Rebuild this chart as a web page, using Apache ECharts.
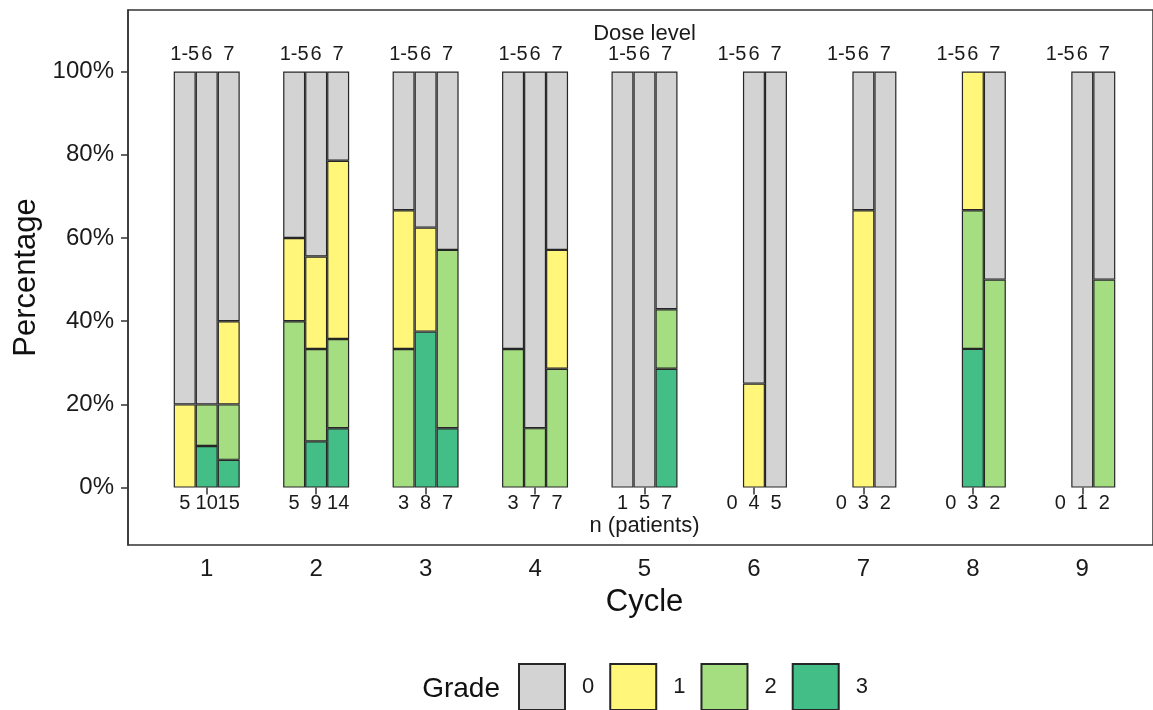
<!DOCTYPE html>
<html>
<head>
<meta charset="utf-8">
<script src="https://cdn.jsdelivr.net/npm/echarts@6/dist/echarts.min.js"></script>
<style>
html,body{margin:0;padding:0;background:#fff;}
#chart{width:1153px;height:710px;}
</style>
</head>
<body>
<div id="chart"></div>
<script>
// ---- data ----
const cycles = ['1', '2', '3', '4', '5', '6', '7', '8', '9'];
const doseLevels = ['1-5', '6', '7'];
const grades = ['0', '1', '2', '3'];
const yTicks = [0, 20, 40, 60, 80, 100];

// number of patients per cycle, per dose level
const nDose15 = [5, 5, 3, 3, 1, 0, 0, 0, 0];
const nDose6  = [10, 9, 8, 7, 5, 4, 3, 3, 1];
const nDose7  = [15, 14, 7, 7, 7, 5, 2, 2, 2];

// percentage per grade, dose level 1-5
const d15g0 = [80, 40, 33.33, 66.67, 100, null, null, null, null];
const d15g1 = [20, 20, 33.33, null, null, null, null, null, null];
const d15g2 = [null, 40, 33.33, 33.33, null, null, null, null, null];
const d15g3 = [null, null, null, null, null, null, null, null, null];
// dose level 6
const d6g0 = [80, 44.44, 37.5, 85.71, 100, 75, 33.33, null, 100];
const d6g1 = [null, 22.22, 25, null, null, 25, 66.67, 33.33, null];
const d6g2 = [10, 22.22, null, 14.29, null, null, null, 33.33, null];
const d6g3 = [10, 11.11, 37.5, null, null, null, null, 33.34, null];
// dose level 7
const d7g0 = [60, 21.43, 42.86, 42.86, 57.14, 100, 100, 50, 50];
const d7g1 = [20, 42.86, null, 28.57, null, null, null, null, null];
const d7g2 = [13.33, 21.43, 42.86, 28.57, 14.29, null, null, 50, 50];
const d7g3 = [6.67, 14.28, 14.28, null, 28.57, null, null, null, null];

// ---- build ----
const gradeColors = {'0': '#D3D3D3', '1': '#FFF67A', '2': '#A4DE81', '3': '#42BE86'};
const FONT = '"Liberation Sans", Arial, sans-serif';
const BAR_W = 22;
const Y_MIN = -13.8, Y_MAX = 114.8;
const doseData = [
  {n: nDose15, g: {'0': d15g0, '1': d15g1, '2': d15g2, '3': d15g3}},
  {n: nDose6,  g: {'0': d6g0,  '1': d6g1,  '2': d6g2,  '3': d6g3}},
  {n: nDose7,  g: {'0': d7g0,  '1': d7g1,  '2': d7g2,  '3': d7g3}}
];

const series = [];
doseData.forEach(function (dd, di) {
  ['3', '2', '1', '0'].forEach(function (g) {
    series.push({
      type: 'bar',
      name: g,
      xAxisIndex: 0,
      yAxisIndex: 0,
      stack: 'dose' + di,
      barWidth: BAR_W,
      barGap: '0%',
      itemStyle: {color: gradeColors[g], borderColor: '#262626', borderWidth: 1.2},
      emphasis: {disabled: true},
      data: dd.g[g].slice()
    });
  });
});

// text annotations: dose labels on top, n labels at bottom
const labelItems = [];
cycles.forEach(function (c, i) {
  doseData.forEach(function (dd, di) {
    labelItems.push({x: i, y: 100, dose: di, text: doseLevels[di], kind: 'top'});
    labelItems.push({x: i, y: 0, dose: di, text: String(dd.n[i]), kind: 'bottom'});
  });
});
labelItems.push({x: 4, y: 100, dose: 1, text: 'Dose level', kind: 'title'});
labelItems.push({x: 4, y: 0, dose: 1, text: 'n (patients)', kind: 'subtitle'});

series.push({
  type: 'custom',
  name: 'labels',
  xAxisIndex: 0,
  yAxisIndex: 0,
  coordinateSystem: 'cartesian2d',
  clip: false,
  silent: true,
  encode: {x: 0, y: 1},
  data: labelItems.map(function (d) { return [d.x, d.y]; }),
  renderItem: function (params, api) {
    const d = labelItems[params.dataIndex];
    const p = api.coord([api.value(0), api.value(1)]);
    const xOff = (d.dose - 1) * BAR_W;
    let y, va, fs;
    if (d.kind === 'top') { y = p[1] - 7; va = 'bottom'; fs = 20; }
    else if (d.kind === 'bottom') { y = p[1] + 6; va = 'top'; fs = 20; }
    else if (d.kind === 'title') { y = p[1] - 38; va = 'middle'; fs = 22; }
    else { y = p[1] + 38; va = 'middle'; fs = 22; }
    return {
      type: 'text',
      x: p[0] + xOff,
      y: y,
      style: {text: d.text, fill: '#1a1a1a', fontSize: fs, fontFamily: FONT, align: 'center', verticalAlign: va}
    };
  }
});

const chart = echarts.init(document.getElementById('chart'), null, {renderer: 'canvas'});
chart.setOption({
  animation: false,
  backgroundColor: '#fff',
  grid: [
    {left: 152, top: 10, width: 985, height: 535, show: false, containLabel: false},
    {left: 128, top: 10, width: 1033, height: 535, show: true, borderColor: '#333', borderWidth: 1.5, backgroundColor: 'transparent', containLabel: false}
  ],
  xAxis: [{
    gridIndex: 0,
    type: 'category',
    data: cycles,
    boundaryGap: true,
    name: 'Cycle',
    nameLocation: 'middle',
    nameGap: 42,
    nameTextStyle: {fontSize: 31, color: '#111', fontFamily: FONT},
    splitLine: {show: false},
    axisLine: {show: false},
    axisTick: {show: true, alignWithLabel: true, length: 7, lineStyle: {color: '#333', width: 1.5}},
    axisLabel: {margin: 12, fontSize: 24, color: '#1a1a1a', fontFamily: FONT}
  }, {
    gridIndex: 1,
    type: 'value',
    min: 0, max: 1,
    show: false
  }],
  yAxis: [{
    gridIndex: 0,
    type: 'value',
    min: Y_MIN,
    max: Y_MAX,
    show: false
  }, {
    gridIndex: 1,
    type: 'value',
    min: Y_MIN,
    max: Y_MAX,
    name: 'Percentage',
    nameLocation: 'middle',
    nameGap: 81,
    nameTextStyle: {fontSize: 31, color: '#111', fontFamily: FONT},
    splitLine: {show: false},
    axisLine: {show: true, lineStyle: {color: '#333', width: 1.5}},
    axisTick: {show: true, length: 7, customValues: yTicks, lineStyle: {color: '#333', width: 1.5}},
    axisLabel: {customValues: yTicks, margin: 14, fontSize: 24, color: '#1a1a1a', fontFamily: FONT,
      formatter: function (v) { return v + '%'; }}
  }],
  legend: {
    data: grades,
    left: 518,
    top: 663,
    padding: 0,
    orient: 'horizontal',
    icon: 'rect',
    itemWidth: 46,
    itemHeight: 46,
    itemGap: 15,
    selectedMode: false,
    textStyle: {fontSize: 22, color: '#1a1a1a', fontFamily: FONT, padding: [2, 0, 0, 12]}
  },
  graphic: [{
    type: 'text',
    right: 653,
    top: 675,
    style: {text: 'Grade', fontSize: 28, fill: '#111', fontFamily: FONT}
  }],
  series: series
});
</script>
</body>
</html>
